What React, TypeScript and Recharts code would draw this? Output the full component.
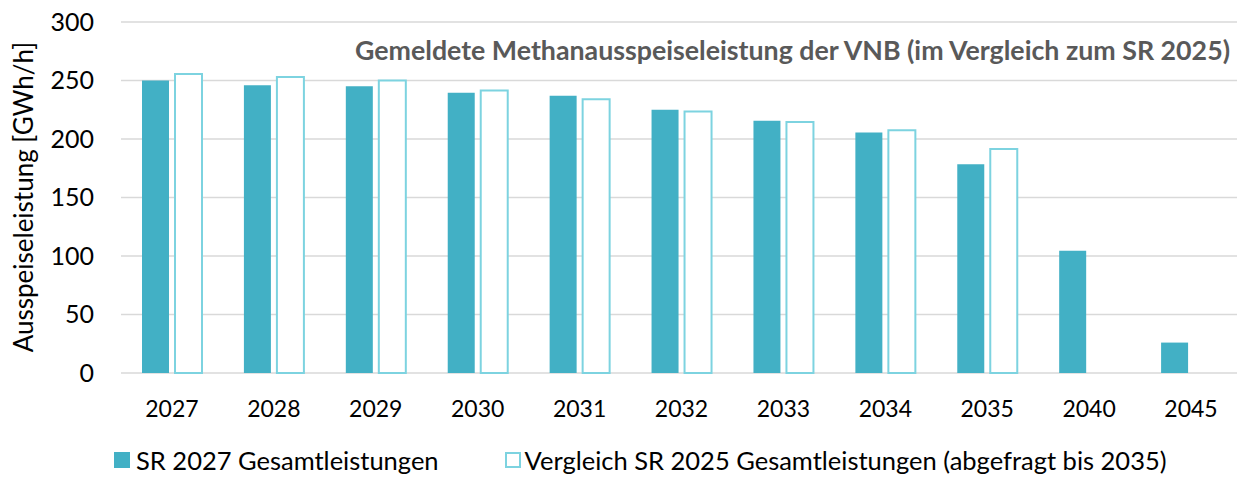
import { BarChart, Bar, XAxis, YAxis, CartesianGrid } from 'recharts'

const years = ['2027', '2028', '2029', '2030', '2031', '2032', '2033', '2034', '2035', '2040', '2045']
const sr2027 = [250, 246, 245, 239.5, 237, 225, 215.5, 205.5, 178.5, 104.5, 26]
const sr2025 = [255.5, 253, 250, 241.5, 234, 223.5, 214.5, 207.5, 191.5, null, null]
const yTicks = [0, 50, 100, 150, 200, 250, 300]

const TITLE = 'Gemeldete Methanausspeiseleistung der VNB (im Vergleich zum SR 2025)'
const Y_LABEL = 'Ausspeiseleistung [GWh/h]'
const NAME_2027 = 'SR 2027 Gesamtleistungen'
const NAME_2025 = 'Vergleich SR 2025 Gesamtleistungen (abgefragt bis 2035)'

const FILL = '#42b0c5'
const OUTLINE = '#7dd3e0'
const FONT = 'Lato, "Open Sans", sans-serif'

const data = years.map((year, i) => ({ year, sr2027: sr2027[i], sr2025: sr2025[i] }))

export default function App() {
  return (
    <div
      style={{
        position: 'absolute',
        left: 0,
        top: 0,
        width: 1237,
        height: 477,
        overflow: 'hidden',
        fontFamily: FONT,
        background: '#fff',
      }}
    >
      {/* the plot runs a few px past the right edge, as in the cropped original */}
      <BarChart
        width={1242}
        height={477}
        data={data}
        margin={{ top: 22, right: 0, bottom: 74, left: 0 }}
        barGap={6}
        barSize={27}
      >
        <CartesianGrid vertical={false} stroke="#d9d9d9" strokeWidth={1.5} />
        <XAxis
          dataKey="year"
          axisLine={false}
          tickLine={false}
          tickSize={0}
          tickMargin={28}
          tick={{ fill: '#000', fontSize: 23, fontFamily: FONT }}
        />
        <YAxis
          width={121}
          domain={[0, 300]}
          ticks={yTicks}
          axisLine={false}
          tickLine={false}
          tickSize={0}
          tickMargin={27}
          tick={{ fill: '#000', fontSize: 25, fontFamily: FONT }}
          label={{
            content: () => (
              <text
                x={33}
                y={197}
                transform="rotate(-90 33 197)"
                textAnchor="middle"
                fontSize={26}
                fontFamily={FONT}
                fill="#000"
              >
                {Y_LABEL}
              </text>
            ),
          }}
        />
        <Bar dataKey="sr2027" name={NAME_2027} fill={FILL} isAnimationActive={false} />
        <Bar
          dataKey="sr2025"
          name={NAME_2025}
          fill="#fff"
          stroke={OUTLINE}
          strokeWidth={2}
          isAnimationActive={false}
        />
      </BarChart>
      <div
        style={{
          position: 'absolute',
          right: 7,
          top: 34,
          fontSize: 26.75,
          fontWeight: 700,
          color: '#595959',
          whiteSpace: 'nowrap',
        }}
      >
        {TITLE}
      </div>
      <div
        style={{
          position: 'absolute',
          left: 114,
          top: 447,
          height: 26,
          lineHeight: '26px',
          display: 'flex',
          alignItems: 'center',
          fontSize: 25.5,
          color: '#000',
          whiteSpace: 'nowrap',
        }}
      >
        <span style={{ width: 16, height: 16, background: FILL, marginRight: 6, display: 'inline-block' }} />
        <span style={{ marginRight: 66 }}>{NAME_2027}</span>
        <span
          style={{
            width: 12,
            height: 12,
            border: `2px solid ${OUTLINE}`,
            background: '#fff',
            marginRight: 4,
            display: 'inline-block',
          }}
        />
        <span>{NAME_2025}</span>
      </div>
    </div>
  )
}
